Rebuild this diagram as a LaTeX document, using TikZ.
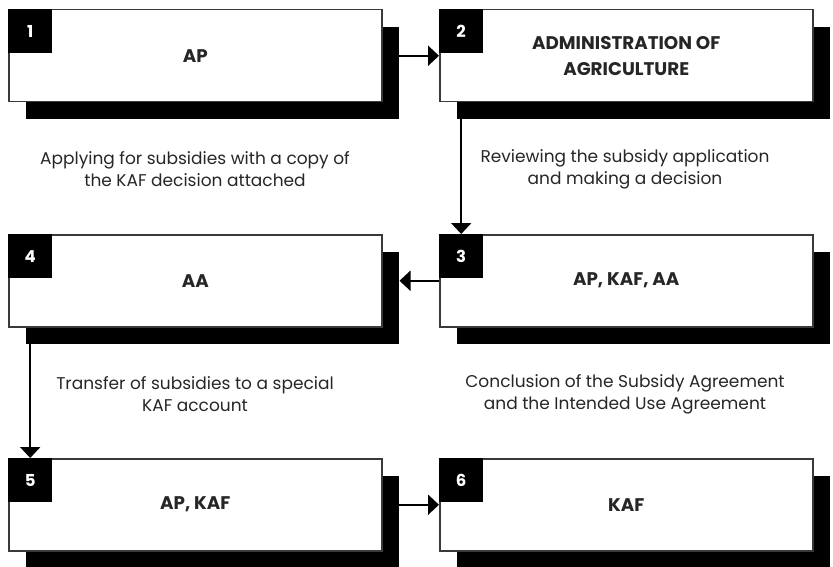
\documentclass[tikz,border=0pt]{standalone}
\usepackage{fontspec}
\setmainfont{Poppins}
\usetikzlibrary{arrows.meta,shadows}
\definecolor{inkc}{HTML}{262626}
\definecolor{edgec}{HTML}{3A3A3A}
\tikzset{
  stepbox/.style={draw=edgec, line width=1.5pt, fill=white,
    minimum width=373pt, minimum height=92pt, anchor=north west,
    inner sep=0pt, align=center, text=inkc,
    font=\bfseries\fontsize{18.3}{26}\selectfont,
    general shadow={fill=black, shadow xshift=17pt, shadow yshift=-17pt}},
  badge/.style={fill=black, minimum size=44pt, inner sep=0pt,
    anchor=north west, text=white, font=\bfseries\fontsize{16.5}{18}\selectfont},
  caption/.style={align=center, text=inkc, font=\fontsize{17}{22}\selectfont},
  flow/.style={line width=2pt, draw=black,
    -{Triangle[width=20pt,length=11pt]}}
}
\begin{document}
\begin{tikzpicture}[x=1pt,y=-1pt]
  \useasboundingbox (0,0) rectangle (833,567);

  % step boxes with their number badges
  \node[stepbox] (b1) at (8,9)   {AP};
  \node[stepbox] (b2) at (439,9) {ADMINISTRATION OF\\AGRICULTURE};
  \node[stepbox] (b3) at (439,234) {AP, KAF, AA};
  \node[stepbox] (b4) at (8,234)   {AA};
  \node[stepbox] (b5) at (8,458)   {AP, KAF};
  \node[stepbox] (b6) at (439,458) {KAF};

  \node[badge] (n1) at (b1.north west) {1};
  \node[badge] (n2) at (b2.north west) {2};
  \node[badge] (n3) at (b3.north west) {3};
  \node[badge] (n4) at (b4.north west) {4};
  \node[badge] (n5) at (b5.north west) {5};
  \node[badge] (n6) at (b6.north west) {6};

  % step descriptions
  \node[caption] (c1) at (195,169) {Applying for subsidies with a copy of\\the KAF decision attached};
  \node[caption] (c2) at (625,169) {Reviewing the subsidy application\\and making a decision};
  \node[caption] (c3) at (195,394) {Transfer of subsidies to a special\\KAF account};
  \node[caption] (c4) at (625,394) {Conclusion of the Subsidy Agreement\\and the Intended Use Agreement};

  % flow between the steps
  \draw[flow] (b1.east) -- (b2.west);
  \draw[flow] (n3.north |- b2.south) -- (n3.north);
  \draw[flow] (b3.west) -- ([xshift=17pt]b4.east);
  \draw[flow] (n5.north |- b4.south) -- (n5.north);
  \draw[flow] (b5.east) -- (b6.west);
\end{tikzpicture}
\end{document}
